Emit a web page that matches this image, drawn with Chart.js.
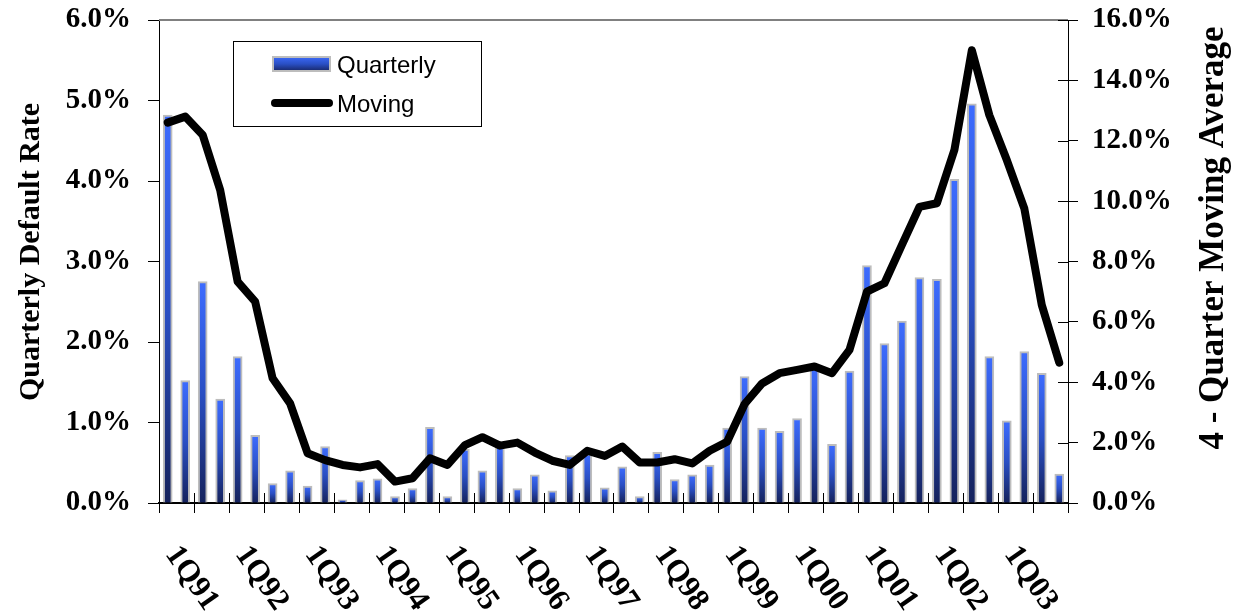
<!DOCTYPE html>
<html>
<head>
<meta charset="utf-8">
<script src="https://cdn.jsdelivr.net/npm/chart.js@4/dist/chart.umd.min.js"></script>
<style>
  html, body { margin: 0; padding: 0; background: #fff; }
  #wrap { width: 1235px; height: 616px; }
</style>
</head>
<body>
<div id="wrap"><canvas id="defaultChart" width="1235" height="616"></canvas></div>
<script>
const years = ["91", "92", "93", "94", "95", "96", "97", "98", "99", "00", "01", "02", "03"];
const quarterNames = ["1Q", "2Q", "3Q", "4Q"];

// quarterly default rate (%), left axis
const quarterly = [
  4.82, 1.52, 2.75, 1.29, 1.82, 0.84, 0.24, 0.40, 0.21, 0.70, 0.04, 0.28, 0.30,
  0.08, 0.18, 0.94, 0.08, 0.67, 0.40, 0.70, 0.18, 0.35, 0.15, 0.59, 0.61, 0.19,
  0.45, 0.08, 0.63, 0.29, 0.35, 0.47, 0.93, 1.57, 0.93, 0.89, 1.05, 1.70, 0.73,
  1.64, 2.95, 1.98, 2.26, 2.80, 2.78, 4.02, 4.96, 1.82, 1.02, 1.88, 1.61, 0.36,
];

// 4-quarter moving average (%), right axis
const moving = [
  12.60, 12.80, 12.19, 10.37, 7.33, 6.67, 4.13, 3.30, 1.65, 1.42, 1.26, 1.18, 1.29,
  0.71, 0.82, 1.48, 1.26, 1.92, 2.18, 1.90, 2.00, 1.67, 1.40, 1.26, 1.73, 1.56,
  1.87, 1.34, 1.34, 1.45, 1.31, 1.73, 2.03, 3.28, 3.96, 4.30, 4.41, 4.52, 4.30,
  5.07, 7.00, 7.28, 8.55, 9.81, 9.93, 11.69, 15.00, 12.85, 11.36, 9.76, 6.56, 4.65,
];

const quarters = [];
years.forEach((y) => quarterNames.forEach((q) => quarters.push(q + y)));

const serif = "'Liberation Serif', 'Times New Roman', serif";
const sans = "'Liberation Sans', Arial, sans-serif";

function barGradient(ctx, top, base) {
  const g = ctx.createLinearGradient(0, top, 0, base);
  g.addColorStop(0, "#3d6cff");
  g.addColorStop(0.5, "#2a4fc4");
  g.addColorStop(1, "#15225c");
  return g;
}

function noOverflow(scale) {
  scale.paddingTop = 0;
  scale.paddingBottom = 0;
}

const decorations = {
  id: "decorations",
  afterDraw(chart) {
    const ctx = chart.ctx;
    const area = chart.chartArea;
    const x = chart.scales.x;
    const y1 = chart.scales.y1;
    ctx.save();

    // top frame line
    ctx.strokeStyle = "#808080";
    ctx.lineWidth = 2;
    ctx.beginPath();
    ctx.moveTo(area.left, area.top);
    ctx.lineTo(area.right, area.top);
    ctx.stroke();

    // x ticks every two quarters, crossing the axis
    ctx.strokeStyle = "#000";
    ctx.lineWidth = 1;
    const step = (x.getPixelForValue(1) - x.getPixelForValue(0));
    for (let i = 0; i <= quarters.length; i += 2) {
      const px = Math.round(x.getPixelForValue(0) - step / 2 + i * step) + 0.5;
      ctx.beginPath();
      ctx.moveTo(px, area.bottom - 10);
      ctx.lineTo(px, area.bottom + 10);
      ctx.stroke();
    }

    // inner half of right axis ticks
    y1.ticks.forEach((t) => {
      const py = Math.round(y1.getPixelForValue(t.value)) + 0.5;
      ctx.beginPath();
      ctx.moveTo(area.right - 10, py);
      ctx.lineTo(area.right, py);
      ctx.stroke();
    });

    // slanted year labels
    ctx.fillStyle = "#000";
    ctx.font = "bold 31px " + serif;
    ctx.textAlign = "left";
    ctx.textBaseline = "alphabetic";
    for (let i = 0; i < quarters.length; i += 4) {
      ctx.save();
      ctx.translate(x.getPixelForValue(i) - 3, 554);
      ctx.rotate((55 * Math.PI) / 180);
      ctx.fillText(quarters[i], 0, 0);
      ctx.restore();
    }

    // axis titles
    ctx.font = "bold 30px " + serif;
    ctx.textAlign = "center";
    ctx.textBaseline = "middle";
    ctx.save();
    ctx.translate(31, 252);
    ctx.rotate(-Math.PI / 2);
    ctx.fillText("Quarterly Default Rate", 0, 0);
    ctx.restore();
    ctx.font = "bold 35px " + serif;
    ctx.save();
    ctx.translate(1214, 238);
    ctx.rotate(-Math.PI / 2);
    ctx.fillText("4 - Quarter Moving Average", 0, 0);
    ctx.restore();

    // legend
    ctx.fillStyle = "#fff";
    ctx.fillRect(233, 41, 248, 85);
    ctx.strokeStyle = "#000";
    ctx.lineWidth = 1;
    ctx.strokeRect(233.5, 41.5, 248, 85);
    ctx.fillStyle = barGradient(ctx, 56, 72);
    ctx.fillRect(272, 56, 59, 16);
    ctx.strokeStyle = "#bdbdbd";
    ctx.lineWidth = 2;
    ctx.strokeRect(273, 57, 57, 14);
    ctx.strokeStyle = "#000";
    ctx.lineWidth = 8;
    ctx.lineCap = "round";
    ctx.beginPath();
    ctx.moveTo(275, 103);
    ctx.lineTo(329, 103);
    ctx.stroke();
    ctx.fillStyle = "#000";
    ctx.font = "24px " + sans;
    ctx.textAlign = "left";
    ctx.textBaseline = "alphabetic";
    ctx.fillText("Quarterly", 337, 73);
    ctx.fillText("Moving", 337, 112);

    ctx.restore();
  },
};

const chart = new Chart(document.getElementById("defaultChart"), {
  type: "bar",
  data: {
    labels: quarters,
    datasets: [
      {
        label: "Moving",
        type: "line",
        data: moving,
        yAxisID: "y1",
        borderColor: "#000",
        borderWidth: 8,
        pointRadius: 0,
        tension: 0,
        borderJoinStyle: "round",
        borderCapStyle: "round",
        order: 0,
      },
      {
        label: "Quarterly",
        data: quarterly,
        yAxisID: "y",
        barThickness: 9,
        borderWidth: { top: 2, left: 2, right: 2, bottom: 0 },
        borderColor: "#bdbdbd",
        backgroundColor(c) {
          const area = c.chart.chartArea;
          if (!area || c.type !== "data") return "#2f5fe8";
          const ys = c.chart.scales.y;
          return barGradient(c.chart.ctx, ys.getPixelForValue(c.raw), ys.getPixelForValue(0));
        },
        order: 1,
      },
    ],
  },
  options: {
    responsive: false,
    animation: false,
    layout: { padding: { top: 20, left: 0, right: 0, bottom: 0 } },
    plugins: {
      legend: { display: false },
      tooltip: { enabled: false },
    },
    scales: {
      x: {
        ticks: { display: false },
        grid: { display: false },
        border: { display: true, color: "#000", width: 2 },
        afterFit(scale) {
          scale.height = 113;
        },
      },
      y: {
        position: "left",
        min: 0,
        max: 6,
        ticks: {
          stepSize: 1,
          padding: 17,
          color: "#000",
          font: { family: serif, size: 29, weight: "bold" },
          callback: (v) => v.toFixed(1) + "%",
        },
        grid: { drawOnChartArea: false, tickLength: 11, color: "#000" },
        border: { display: true, color: "#000", width: 1 },
        afterFit(scale) {
          scale.width = 159;
          noOverflow(scale);
        },
      },
      y1: {
        position: "right",
        min: 0,
        max: 16,
        ticks: {
          stepSize: 2,
          padding: 14,
          color: "#000",
          font: { family: serif, size: 29, weight: "bold" },
          callback: (v) => v.toFixed(1) + "%",
        },
        grid: { drawOnChartArea: false, tickLength: 10, color: "#000" },
        border: { display: true, color: "#000", width: 1 },
        afterFit(scale) {
          scale.width = 167;
          noOverflow(scale);
        },
      },
    },
  },
  plugins: [decorations],
});
</script>
</body>
</html>
